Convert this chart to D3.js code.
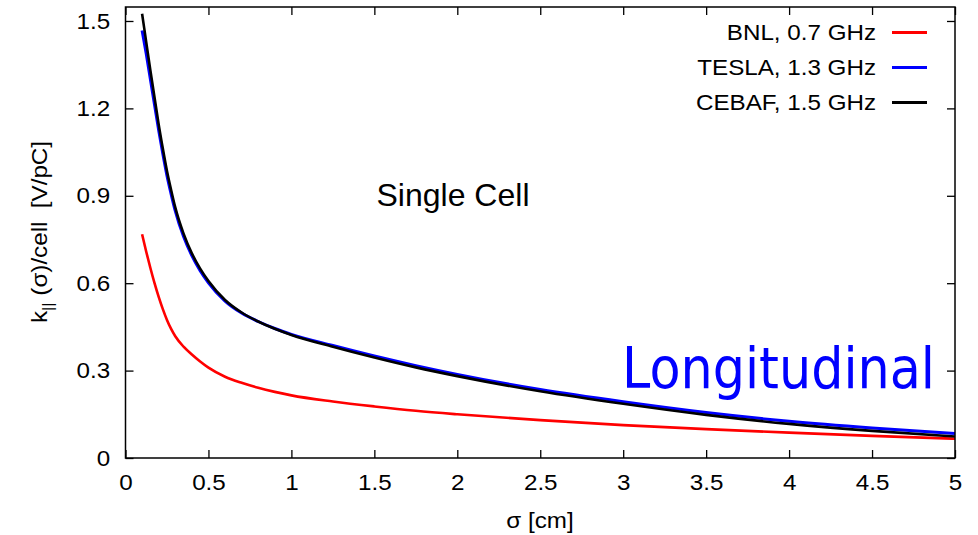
<!DOCTYPE html>
<html>
<head>
<meta charset="utf-8">
<script src="https://cdn.jsdelivr.net/npm/d3@7"></script>
<style>
  body { margin: 0; background: #fff; }
  text { font-family: "Liberation Sans", Arial, sans-serif; fill: #000; }
</style>
</head>
<body>
<div id="plot"></div>
<script>
// sigma values [cm] where the curves were read
const sigma = [0.1, 0.125, 0.15, 0.175, 0.2, 0.225, 0.25, 0.275, 0.3, 0.35, 0.4, 0.45, 0.5, 0.6, 0.7, 0.8, 0.9, 1.0,
               1.25, 1.5, 1.75, 2.0, 2.5, 3.0, 3.5, 4.0, 4.5, 5.0];

// k|| per cell [V/pC]
const bnl   = [0.768, 0.708, 0.652, 0.600, 0.553, 0.511, 0.474, 0.443, 0.418, 0.382, 0.355, 0.331, 0.310, 0.279, 0.258, 0.241, 0.227, 0.215,
               0.194, 0.177, 0.162, 0.150, 0.130, 0.113, 0.099, 0.087, 0.076, 0.066];
const tesla = [1.467, 1.3875, 1.30, 1.2125, 1.125, 1.044, 0.969, 0.906, 0.848, 0.760, 0.6945, 0.643, 0.6015, 0.5385, 0.4975, 0.4685, 0.4445, 0.4245,
               0.386, 0.350, 0.317, 0.287, 0.235, 0.193, 0.156, 0.126, 0.103, 0.084];
const cebaf = [1.525, 1.4275, 1.33, 1.2375, 1.145, 1.062, 0.985, 0.920, 0.860, 0.770, 0.7025, 0.650, 0.6075, 0.5425, 0.4995, 0.4685, 0.4435, 0.4225,
               0.382, 0.345, 0.311, 0.281, 0.229, 0.186, 0.148, 0.117, 0.093, 0.074];

const seriesNames  = ["BNL, 0.7 GHz", "TESLA, 1.3 GHz", "CEBAF, 1.5 GHz"];
const seriesColors = ["#ff0000", "#0000ff", "#000000"];
const xTicks = [0, 0.5, 1, 1.5, 2, 2.5, 3, 3.5, 4, 4.5, 5];
const yTicks = [0, 0.3, 0.6, 0.9, 1.2, 1.5];

const margin = { top: 7, right: 23, bottom: 77, left: 125.5 },
  width = 978 - margin.left - margin.right,
  height = 535 - margin.top - margin.bottom;

const svgRoot = d3.select("#plot").append("svg")
  .attr("width", 978)
  .attr("height", 535);

const svg = svgRoot.append("g")
  .attr("transform", `translate(${margin.left},${margin.top})`);

const x = d3.scaleLinear().domain([0, 5]).range([0, width]);
const y = d3.scaleLinear().domain([0, 1.548]).range([height, 0]);

// axes with inward ticks
const xAxis = svg.append("g")
  .attr("transform", `translate(0,${height})`)
  .call(d3.axisBottom(x).tickValues(xTicks).tickFormat(d3.format("")).tickSizeInner(-8).tickSizeOuter(0).tickPadding(16));
const yAxis = svg.append("g")
  .call(d3.axisLeft(y).tickValues(yTicks).tickFormat(d3.format("")).tickSizeInner(-8).tickSizeOuter(0).tickPadding(14));
// mirrored ticks on top and right
svg.append("g")
  .call(d3.axisTop(x).tickValues(xTicks).tickFormat("").tickSizeInner(-8).tickSizeOuter(0));
svg.append("g")
  .attr("transform", `translate(${width},0)`)
  .call(d3.axisRight(y).tickValues(yTicks).tickFormat("").tickSizeInner(-8).tickSizeOuter(0));

svg.selectAll(".domain").remove();
svg.selectAll(".tick line").attr("stroke", "#000").attr("stroke-width", 1.3);
[xAxis, yAxis].forEach(a => a.selectAll("text")
  .attr("font-size", 22)
  .attr("font-family", "Liberation Sans, Arial, sans-serif")
  .attr("fill", "#000")
  .attr("transform", "scale(1.1,1)"));

// curves
const line = d3.line()
  .x(d => x(d[0]))
  .y(d => y(d[1]))
  .curve(d3.curveMonotoneX);

[bnl, tesla, cebaf].forEach((vals, i) => {
  svg.append("path")
    .datum(sigma.map((s, j) => [s, vals[j]]))
    .attr("fill", "none")
    .attr("stroke", seriesColors[i])
    .attr("stroke-width", i === 1 ? 3 : 2.6)
    .attr("d", line);
});

// frame
svg.append("rect")
  .attr("width", width)
  .attr("height", height)
  .attr("fill", "none")
  .attr("stroke", "#000")
  .attr("stroke-width", 1.5);

// legend
const legend = svgRoot.append("g");
seriesNames.forEach((name, i) => {
  const yy = 40 + i * 35;
  legend.append("text")
    .attr("transform", `translate(876,${yy}) scale(1.1,1)`)
    .attr("text-anchor", "end")
    .attr("font-size", 22)
    .text(name);
  legend.append("line")
    .attr("x1", 892).attr("x2", 927)
    .attr("y1", yy - 7.5).attr("y2", yy - 7.5)
    .attr("stroke", seriesColors[i])
    .attr("stroke-width", 3);
});

// annotations
svgRoot.append("text")
  .attr("x", 453).attr("y", 206)
  .attr("text-anchor", "middle")
  .attr("font-size", 32)
  .text("Single Cell");

svgRoot.append("text")
  .attr("x", 622).attr("y", 388)
  .attr("font-size", 57)
  .attr("textLength", 313)
  .attr("lengthAdjust", "spacingAndGlyphs")
  .style("font-family", "DejaVu Sans, sans-serif")
  .style("fill", "#0000ff")
  .text("Longitudinal");

// axis titles
svgRoot.append("text")
  .attr("transform", "translate(540,528) scale(1.1,1)")
  .attr("text-anchor", "middle")
  .attr("font-size", 22)
  .text("σ [cm]");

const yl = svgRoot.append("text")
  .attr("transform", "translate(47,232) rotate(-90) scale(1.1,1)")
  .attr("text-anchor", "middle")
  .attr("font-size", 22);
yl.append("tspan").text("k");
yl.append("tspan").attr("font-size", 15).attr("dy", 6).text("||");
yl.append("tspan").attr("dy", -6).text("\u00a0(σ)/cell\u00a0\u00a0[V/pC]");
</script>
</body>
</html>
